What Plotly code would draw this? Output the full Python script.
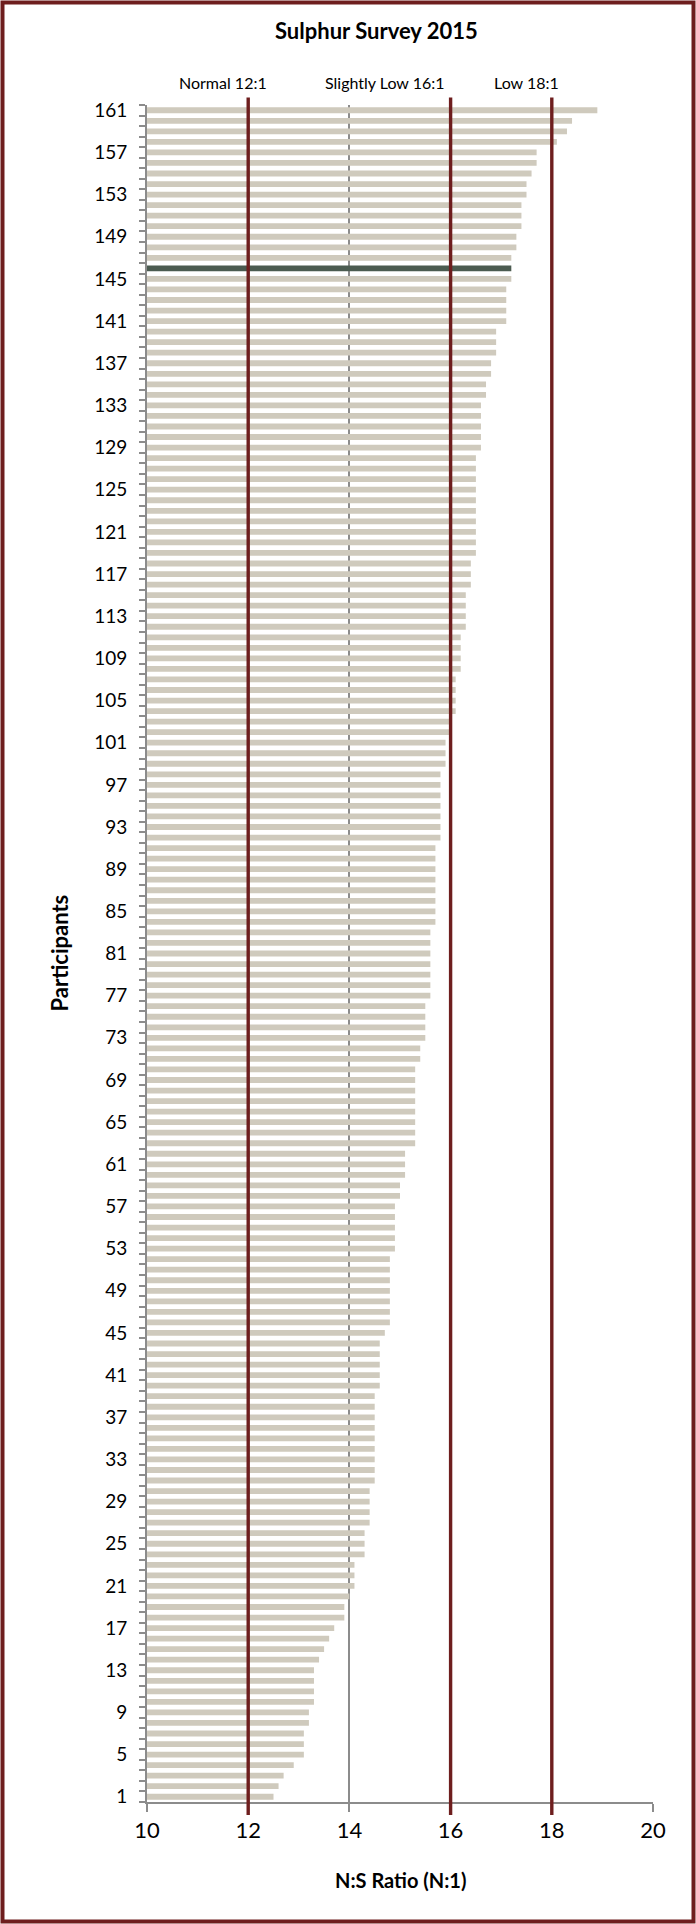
import plotly.graph_objects as go

# ---- data ----
participants = list(range(1, 162))
ns_ratio = [
    12.5, 12.6, 12.7, 12.9, 13.1, 13.1, 13.1, 13.2, 13.2, 13.3,
    13.3, 13.3, 13.3, 13.4, 13.5, 13.6, 13.7, 13.9, 13.9, 14.0,
    14.1, 14.1, 14.1, 14.3, 14.3, 14.3, 14.4, 14.4, 14.4, 14.4,
    14.5, 14.5, 14.5, 14.5, 14.5, 14.5, 14.5, 14.5, 14.5, 14.6,
    14.6, 14.6, 14.6, 14.6, 14.7, 14.8, 14.8, 14.8, 14.8, 14.8,
    14.8, 14.8, 14.9, 14.9, 14.9, 14.9, 14.9, 15.0, 15.0, 15.1,
    15.1, 15.1, 15.3, 15.3, 15.3, 15.3, 15.3, 15.3, 15.3, 15.3,
    15.4, 15.4, 15.5, 15.5, 15.5, 15.5, 15.6, 15.6, 15.6, 15.6,
    15.6, 15.6, 15.6, 15.7, 15.7, 15.7, 15.7, 15.7, 15.7, 15.7,
    15.7, 15.8, 15.8, 15.8, 15.8, 15.8, 15.8, 15.8, 15.9, 15.9,
    15.9, 16.0, 16.0, 16.1, 16.1, 16.1, 16.1, 16.2, 16.2, 16.2,
    16.2, 16.3, 16.3, 16.3, 16.3, 16.4, 16.4, 16.4, 16.5, 16.5,
    16.5, 16.5, 16.5, 16.5, 16.5, 16.5, 16.5, 16.5, 16.6, 16.6,
    16.6, 16.6, 16.6, 16.7, 16.7, 16.8, 16.8, 16.9, 16.9, 16.9,
    17.1, 17.1, 17.1, 17.1, 17.2, 17.2, 17.2, 17.3, 17.3, 17.4,
    17.4, 17.4, 17.5, 17.5, 17.6, 17.7, 17.7, 18.1, 18.3, 18.4,
    18.9,
]
highlight_participant = 146
y_tick_values = list(range(1, 162, 4))
y_tick_labels = [str(v) for v in y_tick_values]
thresholds = [12, 16, 18]
threshold_labels = ["Normal 12:1", "Slightly Low 16:1", "Low 18:1"]
threshold_label_x = [11.5, 14.7, 17.5]

# ---- style ----
BAR = "#CFCABD"
HILITE = "#4B5B50"
RED = "#6E1E1E"
GRID = "#8C8C8C"
FONT = "Lato, 'Liberation Sans', sans-serif"

W, H = 696, 1924
ML, MR, MT, MB = 147, 43, 105, 122
PW, PH = W - ML - MR, H - MT - MB


def px_x(x):
    return (x - ML) / PW


def px_y(y):
    return (H - MB - y) / PH


colors = [HILITE if p == highlight_participant else BAR for p in participants]

fig = go.Figure()
fig.add_trace(go.Bar(
    x=ns_ratio, y=participants, orientation="h",
    marker=dict(color=colors, line=dict(width=0)),
    width=0.55, showlegend=False, hoverinfo="x+y",
))

shapes = []
for t in thresholds:
    shapes.append(dict(type="line", xref="x", yref="paper", x0=t, x1=t,
                       y0=px_y(1815), y1=px_y(97.5), layer="above",
                       line=dict(color=RED, width=3.4)))
# outer frame
shapes.append(dict(type="rect", xref="paper", yref="paper",
                   x0=px_x(2.5), x1=px_x(W - 2.5), y0=px_y(H - 2.5), y1=px_y(2.5),
                   line=dict(color=RED, width=4), layer="above"))

annotations = [
    dict(text="<b>Sulphur Survey 2015</b>", xref="paper", yref="paper",
         x=px_x(376), y=px_y(30), showarrow=False, xanchor="center", yanchor="middle",
         font=dict(family=FONT, size=22, color="#000")),
    dict(text="<b>Participants</b>", xref="paper", yref="paper",
         x=px_x(59), y=0.5, textangle=-90, showarrow=False, xanchor="center", yanchor="middle",
         font=dict(family=FONT, size=22, color="#000")),
    dict(text="<b>N:S Ratio (N:1)</b>", xref="paper", yref="paper",
         x=0.5, y=px_y(1880), showarrow=False, xanchor="center", yanchor="middle",
         font=dict(family=FONT, size=20, color="#000")),
]
for lab, lx in zip(threshold_labels, threshold_label_x):
    annotations.append(dict(text=lab, xref="x", yref="paper", x=lx, y=px_y(82),
                            showarrow=False, xanchor="center", yanchor="middle",
                            font=dict(family=FONT, size=16, color="#000")))

fig.update_layout(
    width=W, height=H,
    margin=dict(l=ML, r=MR, t=MT, b=MB, pad=0),
    paper_bgcolor="white", plot_bgcolor="white",
    bargap=0.45,
    shapes=shapes, annotations=annotations,
    font=dict(family=FONT, color="#000"),
    xaxis=dict(
        range=[10, 20], dtick=2, tick0=10,
        showgrid=True, gridcolor=GRID, gridwidth=1.6,
        showline=True, linecolor=GRID, linewidth=1.6,
        ticks="outside", ticklen=8, tickwidth=1.6, tickcolor=GRID,
        tickfont=dict(family=FONT, size=22, color="#000"),
        zeroline=False, fixedrange=True,
    ),
    yaxis=dict(
        range=[0.5, 161.5], tickmode="array", tickvals=y_tick_values, ticktext=y_tick_labels,
        showgrid=False, zeroline=False,
        showline=True, linecolor=GRID, linewidth=1.6,
        ticks="outside", ticklen=14, tickcolor="rgba(0,0,0,0)",
        tickfont=dict(family=FONT, size=19, color="#000"),
        minor=dict(tickmode="array",
                   tickvals=[p - 0.5 for p in participants] + [participants[-1] + 0.5],
                   ticks="outside", ticklen=6, tickwidth=1.5, tickcolor=GRID, showgrid=False),
        fixedrange=True,
    ),
)

fig.write_html("out.html", config={"displayModeBar": False},
               post_script="document.body.style.margin='0';")
